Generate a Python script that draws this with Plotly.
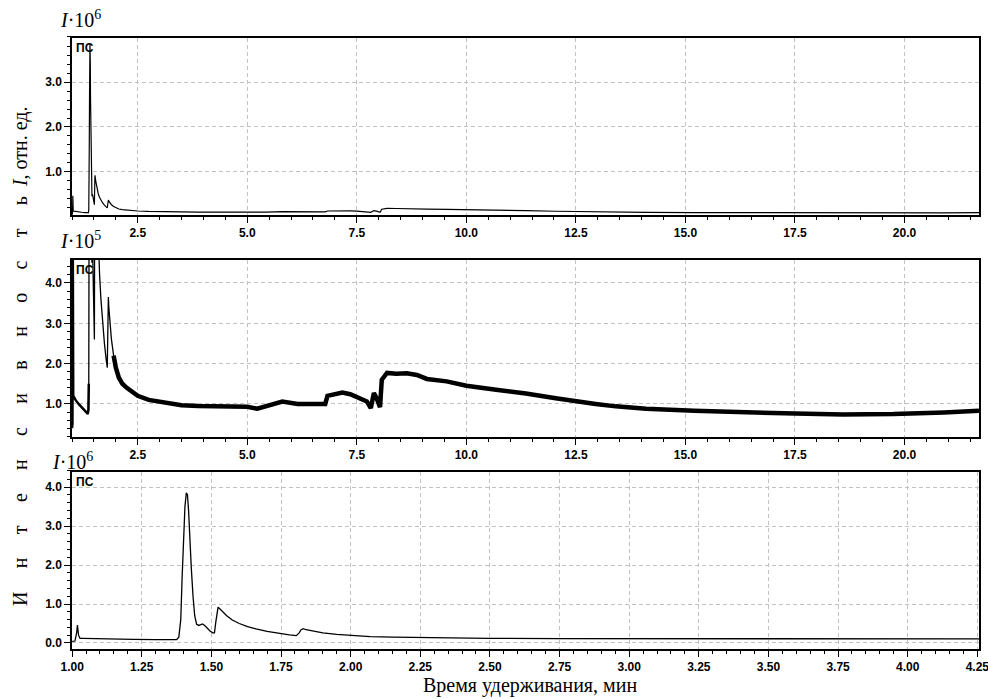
import plotly.graph_objects as go

W, H = 988, 699

# ---- data: retention time (min) and intensity (units of 1e5) ----
time_min = [1.000, 1.010, 1.016, 1.019, 1.023, 1.028, 1.04, 1.08, 1.15, 1.22,
            1.30, 1.34, 1.36, 1.375, 1.383, 1.390, 1.395, 1.400, 1.405, 1.410,
            1.414, 1.418, 1.422, 1.428, 1.434, 1.440, 1.447, 1.455, 1.462, 1.468,
            1.476, 1.485, 1.495, 1.505, 1.511, 1.516, 1.520, 1.524, 1.530, 1.540,
            1.555, 1.575, 1.60, 1.63, 1.66, 1.70, 1.74, 1.78, 1.805, 1.815,
            1.822, 1.830, 1.84, 1.86, 1.90, 1.95, 2.00, 2.07, 2.15, 2.25,
            2.37, 2.50, 2.75, 3.13, 3.50, 3.88, 4.5, 5.0, 5.23, 5.45,
            5.8, 6.15, 6.5, 6.78, 6.83, 7.0, 7.17, 7.35, 7.5, 7.65,
            7.73, 7.82, 7.86, 7.89, 7.95, 8.03, 8.07, 8.19, 8.4, 8.64,
            8.87, 9.1, 9.55, 10.0, 10.68, 11.36, 12.04, 12.5, 12.95, 13.41,
            14.1, 15.2, 16.35, 17.5, 18.6, 19.75, 20.9, 21.7]
intensity_e5 = [0.4, 0.5, 2.5, 4.6, 2.0, 1.2, 1.18, 1.1, 1.0, 0.92,
                0.85, 0.78, 0.75, 0.85, 1.5, 6.0, 17.0, 27.0, 35.0, 38.5,
                38.0, 34.0, 27.0, 19.0, 12.0, 7.0, 4.8, 4.5, 4.7, 4.9,
                4.5, 3.8, 3.1, 2.6, 2.6, 5.5, 8.2, 9.2, 8.8, 8.0,
                7.0, 5.9, 5.0, 4.2, 3.6, 3.0, 2.5, 2.1, 1.9, 2.6,
                3.4, 3.65, 3.4, 3.1, 2.6, 2.2, 1.9, 1.65, 1.5, 1.4,
                1.3, 1.2, 1.1, 1.02, 0.97, 0.95, 0.94, 0.93, 0.88, 0.96,
                1.06, 1.0, 1.0, 1.0, 1.2, 1.24, 1.28, 1.24, 1.18, 1.1,
                1.06, 0.9, 1.15, 1.27, 1.15, 0.92, 1.6, 1.77, 1.75, 1.76,
                1.72, 1.62, 1.56, 1.45, 1.35, 1.26, 1.14, 1.06, 1.0, 0.94,
                0.88, 0.83, 0.79, 0.76, 0.74, 0.75, 0.79, 0.83]

intensity_e6 = [v / 10.0 for v in intensity_e5]

# tick values
p1_xticks = [2.5, 5.0, 7.5, 10.0, 12.5, 15.0, 17.5, 20.0]
p1_yticks = [1.0, 2.0, 3.0]
p2_yticks = [1.0, 2.0, 3.0, 4.0]
p3_xticks = [1.00, 1.25, 1.50, 1.75, 2.00, 2.25, 2.50, 2.75, 3.00, 3.25, 3.50, 3.75, 4.00, 4.25]
p3_yticks = [0.0, 1.0, 2.0, 3.0, 4.0]


def px_x(x):
    return x / W


def px_y(y):
    return 1 - y / H


TICKFONT = dict(family="Liberation Sans, Arial, sans-serif", size=12, color="black", weight="bold")
SERIF = "Liberation Serif, Times New Roman, serif"
GRID = dict(showgrid=True, gridcolor="#c2c2c2", gridwidth=1, griddash="4px,3px")


def xax(rng, ticks, fmt, minor_dt, anchor):
    return dict(domain=[px_x(72), px_x(979)], range=rng, anchor=anchor, automargin=False,
                tickmode="array", tickvals=ticks, ticktext=[fmt.format(t) for t in ticks],
                ticks="outside", ticklen=6, tickwidth=1.3, tickcolor="black",
                tickfont=TICKFONT, ticklabeloverflow="allow",
                showline=True, linecolor="black", linewidth=1.5,
                mirror=True, zeroline=False,
                minor=dict(tick0=0, dtick=minor_dt, ticks="outside", ticklen=3.5,
                           tickwidth=1, tickcolor="black", showgrid=False),
                **GRID)


def yax(rng, ticks, top, bottom, anchor):
    return dict(domain=[px_y(bottom), px_y(top)], range=rng, anchor=anchor, automargin=False,
                tickmode="array", tickvals=ticks, ticktext=["{:.1f}".format(t) for t in ticks],
                ticks="outside", ticklen=6, tickwidth=1.3, tickcolor="black",
                tickfont=TICKFONT, showline=True, linecolor="black", linewidth=1.5,
                mirror=True, zeroline=False,
                minor=dict(tick0=0, dtick=0.2, ticks="outside", ticklen=3.5,
                           tickwidth=1, tickcolor="black", showgrid=False),
                **GRID)


fig = go.Figure()

# Panel 1 (x1e6)
fig.add_trace(go.Scatter(x=time_min, y=intensity_e6, mode="lines",
                         line=dict(color="black", width=1.2), xaxis="x", yaxis="y",
                         hoverinfo="skip"))

# Panel 2 (x1e5) split into segments with different apparent thickness
pre = [(t, v) for t, v in zip(time_min, intensity_e5) if t <= 1.383]
mid = [(t, v) for t, v in zip(time_min, intensity_e5) if 1.375 <= t <= 2.0]
post = [(t, v) for t, v in zip(time_min, intensity_e5) if t >= 1.95]
for seg, wdt in ((pre, 2.5), (mid, 1.3), (post, 4.5)):
    fig.add_trace(go.Scatter(x=[p[0] for p in seg], y=[p[1] for p in seg], mode="lines",
                             line=dict(color="black", width=wdt), xaxis="x2", yaxis="y2",
                             hoverinfo="skip"))

# Panel 3 (x1e6, zoomed time)
fig.add_trace(go.Scatter(x=time_min, y=intensity_e6, mode="lines",
                         line=dict(color="black", width=1.3), xaxis="x3", yaxis="y3",
                         hoverinfo="skip"))

annotations = []
# per-panel scale labels
for txt, xl, yc in (("<i>I</i>·10<sup>6</sup>", 58, 19),
                    ("<i>I</i>·10<sup>5</sup>", 58, 240),
                    ("<i>I</i>·10<sup>6</sup>", 50, 461)):
    annotations.append(dict(text=txt, x=px_x(xl), y=px_y(yc), xref="paper", yref="paper",
                            xanchor="left", yanchor="middle", showarrow=False,
                            font=dict(family=SERIF, size=20, color="black")))
# "ПС" tags
for yt in (39, 261, 473):
    annotations.append(dict(text="<b>ПС</b>", x=px_x(74), y=px_y(yt), xref="paper", yref="paper",
                            xanchor="left", yanchor="top", showarrow=False,
                            font=dict(family="Liberation Sans, Arial, sans-serif", size=12, color="black")))
# axis titles
annotations.append(dict(text="Время удерживания, мин", x=px_x(530), y=px_y(685),
                        xref="paper", yref="paper", xanchor="center", yanchor="middle",
                        showarrow=False, font=dict(family=SERIF, size=20, color="black")))
sp = "\u2003\u2006"
ytitle = sp.join(list("Интенсивность")) + "\u2002<i>I</i>, отн. ед."
annotations.append(dict(text=ytitle, x=px_x(20), y=px_y(356), xref="paper", yref="paper",
                        xanchor="center", yanchor="middle", textangle=-90, showarrow=False,
                        font=dict(family=SERIF, size=20, color="black")))

shapes = []
for yy in (36.5, 470.5):
    shapes.append(dict(type="line", xref="paper", yref="paper",
                       x0=px_x(67), x1=px_x(133), y0=px_y(yy), y1=px_y(yy),
                       line=dict(color="black", width=1.2, dash="4px,3px")))

fig.update_layout(
    width=W, height=H,
    margin=dict(l=0, r=0, t=0, b=0, autoexpand=False),
    paper_bgcolor="white", plot_bgcolor="white",
    showlegend=False,
    xaxis=xax([1.0, 21.7], p1_xticks, "{:.1f}", 0.5, "y"),
    yaxis=yax([0.03, 3.99], p1_yticks, 38, 215, "x"),
    xaxis2=xax([1.0, 21.7], p1_xticks, "{:.1f}", 0.5, "y2"),
    yaxis2=yax([0.18, 4.57], p2_yticks, 260, 437, "x2"),
    xaxis3=xax([0.9995, 4.256], p3_xticks, "{:.2f}", 0.05, "y3"),
    yaxis3=yax([-0.154, 4.385], p3_yticks, 472, 649, "x3"),
    annotations=annotations,
    shapes=shapes,
)

# remove the browser's default page margin so the 988x699 figure fills the window
fig.write_html("out.html", config={"displayModeBar": False},
               post_script="document.body.style.margin='0';document.body.style.overflow='hidden';")
